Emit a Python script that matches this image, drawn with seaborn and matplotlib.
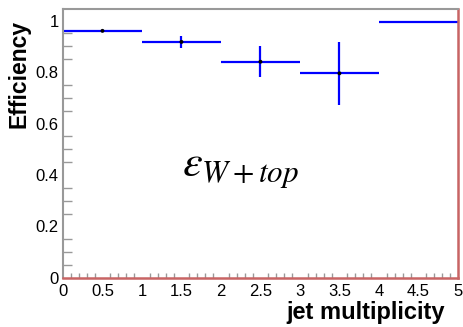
import numpy as np
import matplotlib
matplotlib.use("Agg")
import matplotlib.pyplot as plt
from matplotlib.ticker import MultipleLocator
import seaborn as sns
import pandas as pd

bin_low = [0, 1, 2, 3, 4]
bin_high = [1, 2, 3, 4, 5]
efficiency = [0.960, 0.917, 0.840, 0.795, 0.995]
eff_error = [0.003, 0.023, 0.060, 0.123, 0.0]
x_ticks = [0, 0.5, 1, 1.5, 2, 2.5, 3, 3.5, 4, 4.5, 5]
x_tick_labels = ["0", "0.5", "1", "1.5", "2", "2.5", "3", "3.5", "4", "4.5", "5"]
y_ticks = [0, 0.2, 0.4, 0.6, 0.8, 1]
y_tick_labels = ["0", "0.2", "0.4", "0.6", "0.8", "1"]

sns.set_style("white")
plt.rcParams["font.family"] = ["Liberation Sans", "DejaVu Sans"]
plt.rcParams["mathtext.fontset"] = "stix"
plt.rcParams["text.color"] = "black"
plt.rcParams["xtick.labelcolor"] = "black"
plt.rcParams["ytick.labelcolor"] = "black"

df = pd.DataFrame({
    "low": bin_low, "high": bin_high,
    "eff": efficiency, "err": eff_error,
})
df["center"] = (df["low"] + df["high"]) / 2
df["halfwidth"] = (df["high"] - df["low"]) / 2

fig = plt.figure(figsize=(4.63, 3.27), dpi=100)
ax = fig.add_axes([0.136, 0.150, 0.853, 0.821])

ax.errorbar(df["center"], df["eff"], xerr=df["halfwidth"], yerr=df["err"],
            fmt="none", ecolor="#0000ff", elinewidth=1.6, capsize=0, zorder=2)
pts = df[df["err"] > 0]
sns.scatterplot(data=pts, x="center", y="eff", ax=ax, color="black",
                s=8, edgecolor="none", zorder=3, legend=False)

ax.set_xlim(0, 5)
ax.set_ylim(0, 1.043)
ax.set_xticks(x_ticks)
ax.set_xticklabels(x_tick_labels, fontsize=12, color="black")
ax.set_yticks(y_ticks)
ax.set_yticklabels(y_tick_labels, fontsize=12, color="black")
ax.xaxis.set_minor_locator(MultipleLocator(0.1))
ax.yaxis.set_minor_locator(MultipleLocator(0.05))
ax.tick_params(axis="x", which="major", direction="in", length=7, width=1, color="#999999", pad=4)
ax.tick_params(axis="x", which="minor", direction="in", length=3.5, width=1, color="#999999", bottom=True)
ax.tick_params(axis="y", which="major", direction="in", length=12, width=1, color="#999999", pad=3)
ax.tick_params(axis="y", which="minor", direction="in", length=6.5, width=1, color="#999999", left=True)

ax.set_xlabel("")
ax.set_ylabel("")
for s in ["left", "top"]:
    ax.spines[s].set_color("#999999")
    ax.spines[s].set_linewidth(1.5)
for s in ["right", "bottom"]:
    ax.spines[s].set_color("#c86464")
    ax.spines[s].set_linewidth(1.8)

fig.text(0.961, 0.043, "jet multiplicity", ha="right", va="center",
         fontsize=17, fontweight="bold", color="black")
fig.text(0.042, 0.773, "Efficiency", ha="center", va="center", rotation=90,
         fontsize=16.5, fontweight="bold", color="black")

ax.text(1.51, 0.396, r"$\varepsilon_{W+top}$", fontsize=32, ha="left",
        va="baseline", color="black")

fig.savefig("out.png", dpi=100)
